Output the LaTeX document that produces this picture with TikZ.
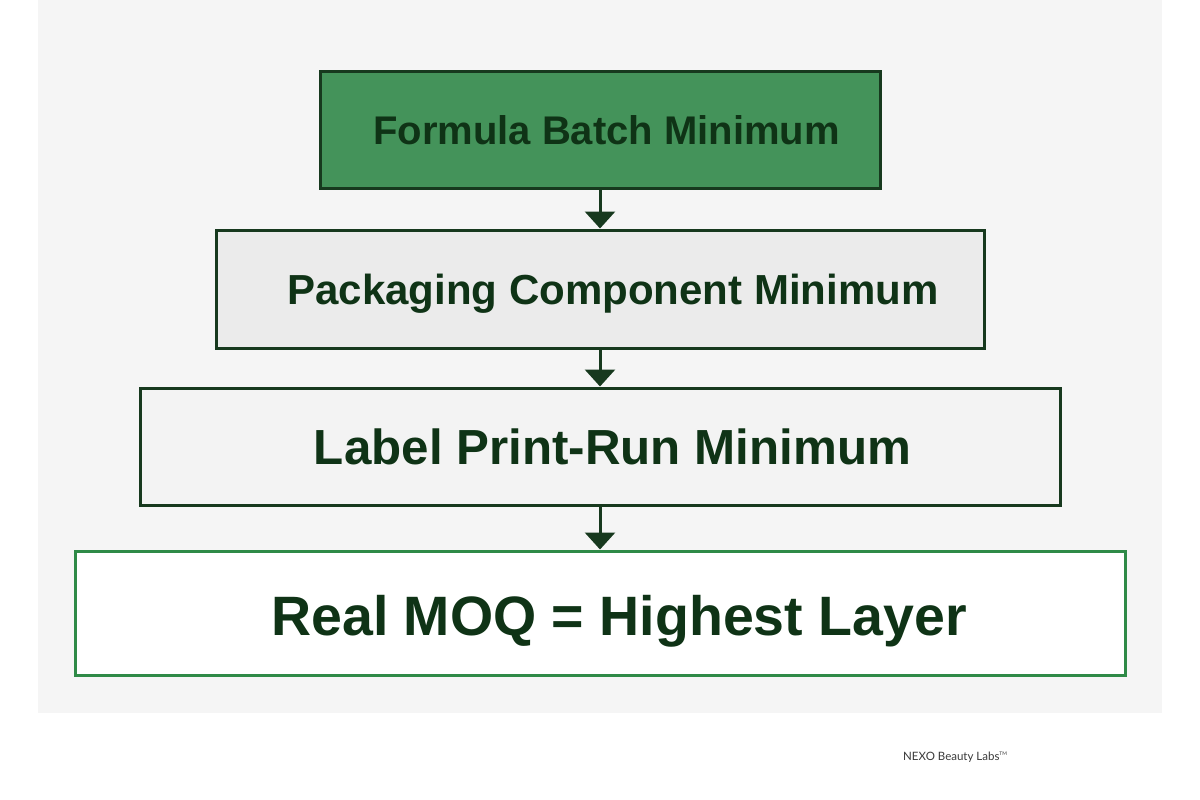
\documentclass[tikz,border=0pt]{standalone}
\usepackage{fontspec}
\setmainfont{Liberation Sans}
\newfontfamily\footfont{Lato}
\usetikzlibrary{arrows.meta}
\definecolor{panelbg}{HTML}{F5F5F5}
\definecolor{gfill}{HTML}{44935A}
\definecolor{dborder}{HTML}{17391E}
\definecolor{txtgreen}{HTML}{0F3316}
\definecolor{lgfill}{HTML}{EBEBEB}
\definecolor{vlgfill}{HTML}{F3F3F3}
\definecolor{gborder}{HTML}{2F8A47}
\definecolor{foottxt}{HTML}{3A3A3A}
\begin{document}
\begin{tikzpicture}[x=1pt,y=-1pt,
  layer/.style={draw=dborder, line width=3pt, inner sep=0pt, text=txtgreen, font=\bfseries},
  flow/.style={draw=dborder, line width=3pt, -{Triangle[width=30pt,length=17pt]}, fill=dborder}]
\useasboundingbox (0,0) rectangle (1200,800);
\fill[white] (0,0) rectangle (1200,800);
\fill[panelbg] (38,0) rectangle (1162,713);
\node[layer, fill=gfill, minimum width=560pt, minimum height=116pt, font=\fontsize{40}{48}\selectfont\bfseries] (b1) at (600,130) {\hspace*{13pt}Formula Batch Minimum};
\node[layer, fill=lgfill, minimum width=768pt, minimum height=118pt, font=\fontsize{42}{50}\selectfont\bfseries] (b2) at (600,289) {\hspace*{26pt}\raisebox{-5pt}[\height][\depth]{Packaging Component Minimum}};
\node[layer, fill=vlgfill, minimum width=920pt, minimum height=117pt, font=\fontsize{49.3}{58}\selectfont\bfseries] (b3) at (600,446.5) {\hspace*{25pt}Label Print-Run Minimum};
\node[layer, draw=gborder, fill=white, minimum width=1050pt, minimum height=124pt, font=\fontsize{55.5}{64}\selectfont\bfseries] (b4) at (600,613) {\hspace*{38pt}\raisebox{-8pt}[\height][\depth]{Real MOQ = Highest Layer}};
\draw[flow] (b1.south) -- (b2.north);
\draw[flow] (b2.south) -- (b3.north);
\draw[flow] (b3.south) -- (b4.north);
\node[anchor=west, inner sep=0pt, text=foottxt, font=\footfont\fontsize{11.5}{14}\selectfont] (foot) at (903,757) {NEXO Beauty Labs\textsuperscript{\tiny TM}};
\end{tikzpicture}
\end{document}
